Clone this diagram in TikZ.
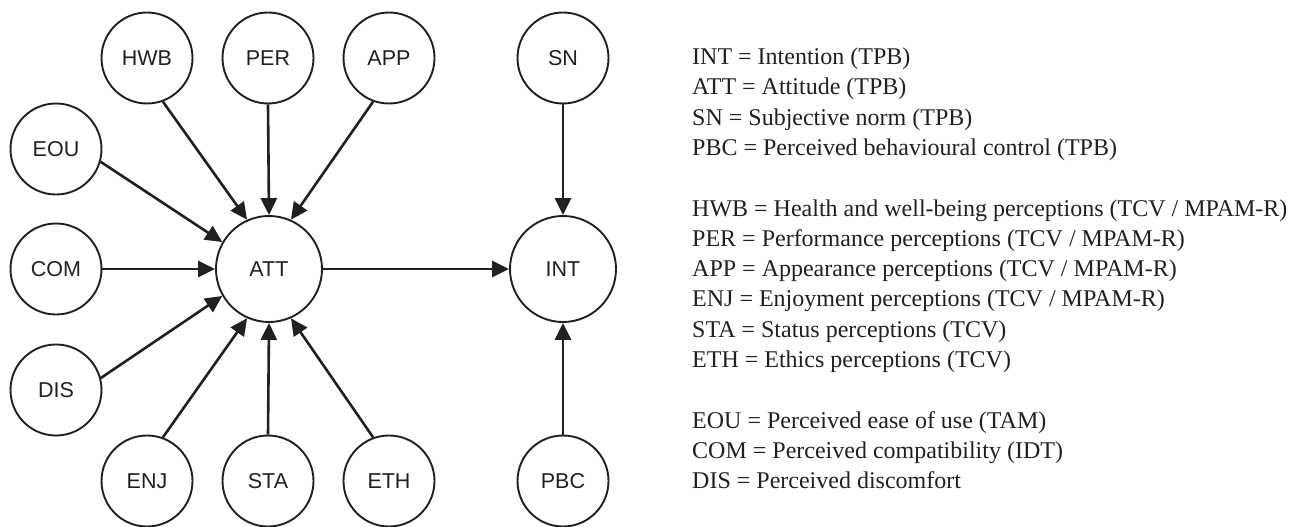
\documentclass[tikz,border=0pt]{standalone}
\usepackage{fontspec}
\setmainfont{Liberation Serif}
\setsansfont{Liberation Sans}
\usepackage{xcolor}
\usepackage{tikz}
\usetikzlibrary{arrows.meta}
\definecolor{ink}{HTML}{231F20}

\begin{document}
\begin{tikzpicture}[
    x=1pt, y=-1pt,
    construct/.style={circle, draw=ink, line width=1.9pt, minimum size=#1,
                      inner sep=0pt, text=ink, font=\sffamily\fontsize{21.5}{24}\selectfont},
    link/.style={-{Triangle[length=17pt,width=16pt]}, line width=2.6pt, draw=ink},
    legend/.style={anchor=base west, inner sep=0pt, text=ink,
                   font=\fontsize{24}{30}\selectfont},
]
\useasboundingbox (0,0) rectangle (1301,527);

\node[construct=91pt]  (HWB) at (147,58)  {HWB};
\node[construct=91pt]  (PER) at (268,58)  {PER};
\node[construct=91pt]  (APP) at (389,58)  {APP};
\node[construct=91pt]  (SN)  at (563,58)  {SN};
\node[construct=91pt]  (EOU) at (56,149)  {EOU};
\node[construct=91pt]  (COM) at (56,269)  {COM};
\node[construct=106pt] (ATT) at (269,269) {ATT};
\node[construct=106pt] (INT) at (563,269) {INT};
\node[construct=91pt]  (DIS) at (56,390)  {DIS};
\node[construct=91pt]  (ENJ) at (147,481) {ENJ};
\node[construct=91pt]  (STA) at (268,481) {STA};
\node[construct=91pt]  (ETH) at (389,481) {ETH};
\node[construct=91pt]  (PBC) at (563,481) {PBC};

\draw[link] (HWB.-70)   -- (ATT.114);
\draw[link] (PER.south) -- (ATT.north);
\draw[link] (APP.-110)  -- (ATT.66);
\draw[link] (EOU.-16)   -- (ATT.150);
\draw[link] (COM.east)  -- (ATT.west);
\draw[link] (DIS.15)    -- (ATT.210);
\draw[link] (ENJ.70)    -- (ATT.246);
\draw[link] (STA.north) -- (ATT.south);
\draw[link] (ETH.110)   -- (ATT.294);
\draw[link] (ATT.east)  -- (INT.west);
\draw[link] (SN.south)  -- (INT.north);
\draw[link] (PBC.north) -- (INT.south);

\node[legend] (kINT) at (692,64.5)  {INT = Intention (TPB)};
\node[legend] (kATT) at (692,94.8)  {ATT = Attitude (TPB)};
\node[legend] (kSN)  at (692,125.1) {SN = Subjective norm (TPB)};
\node[legend] (kPBC) at (692,155.4) {PBC = Perceived behavioural control (TPB)};
\node[legend] (kHWB) at (692,216.0) {HWB = Health and well-being perceptions (TCV / MPAM-R)};
\node[legend] (kPER) at (692,246.3) {PER = Performance perceptions (TCV / MPAM-R)};
\node[legend] (kAPP) at (692,276.6) {APP = Appearance perceptions (TCV / MPAM-R)};
\node[legend] (kENJ) at (692,306.9) {ENJ = Enjoyment perceptions (TCV / MPAM-R)};
\node[legend] (kSTA) at (692,337.2) {STA = Status perceptions (TCV)};
\node[legend] (kETH) at (692,367.5) {ETH = Ethics perceptions (TCV)};
\node[legend] (kEOU) at (692,428.1) {EOU = Perceived ease of use (TAM)};
\node[legend] (kCOM) at (692,458.4) {COM = Perceived compatibility (IDT)};
\node[legend] (kDIS) at (692,488.7) {DIS = Perceived discomfort};
\end{tikzpicture}
\end{document}
